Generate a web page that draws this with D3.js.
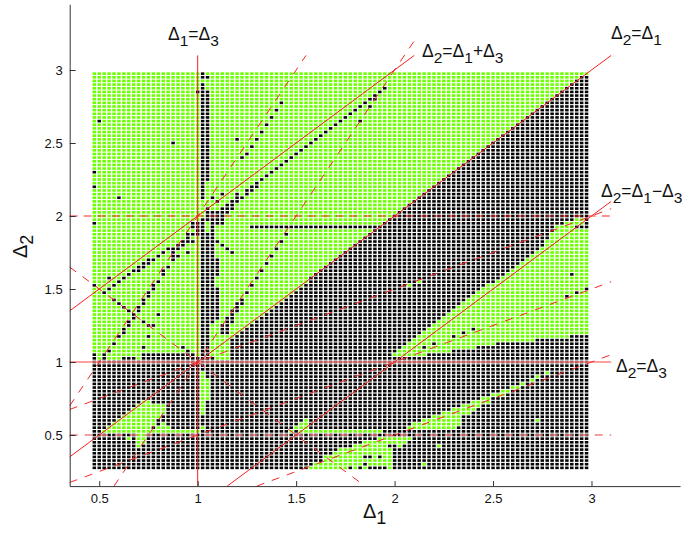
<!DOCTYPE html>
<html>
<head>
<meta charset="utf-8">
<script src="https://cdn.jsdelivr.net/npm/d3@7"></script>
<style>
  html, body { margin: 0; padding: 0; background: #fff; }
  svg { display: block; }
  text { font-family: "Liberation Sans", Arial, sans-serif; fill: #111; }
</style>
</head>
<body>
<svg id="chart"></svg>
<script>
const width = 692;
const height = 536;

// Axis ticks
const xTicks = [0.5, 1, 1.5, 2, 2.5, 3];
const yTicks = [0.5, 1, 1.5, 2, 2.5, 3];

// Scan grid: columns step Delta1, rows step Delta2
const delta1Start = 0.475, delta2Start = 0.275, gridStep = 0.025;
const columnCount = 101, rowCount = 109;

// Rows that are black right across (row numbers from the bottom)
const solidBlackRows = [0, 1, 2, 3, 4, 5, 6, 7, 8, 9, 10, 11, 12, 13, 14, 15, 16, 17, 18, 19, 20, 21, 22, 23, 24, 25, 26, 27, 28, 29];

// First black column of the right hand block, for rows 31, 32, 33 ...
const edgeFirstRow = 31;
const edgeColumn = [28, 28, 28, 28, 28, 29, 30, 31, 32, 33, 34, 35, 36, 37, 38, 39, 40, 41, 42, 43,
  44, 44, 45, 46, 47, 48, 49, 50, 51, 52, 53, 54, 55, 56, 57, 58, 59, 60, 61, 62, 63, 64, 65, 66, 67,
  68, 69, 70, 71, 72, 73, 74, 75, 76, 77, 78, 79, 80, 81, 82, 83, 84, 85, 86, 87, 88, 89, 90, 91, 92,
  93, 94, 95, 96, 97, 98, 99];

// Black horizontal runs: [row, from column, to column]
const blackRuns = [
  [30, 0, 0], [30, 2, 2], [30, 6, 8], [30, 10, 24], [30, 28, 100],
  [31, 0, 0], [31, 2, 2], [31, 10, 20], [66, 32, 58]
];

// Green runs over the black block: [row, from column, to column]
const greenRuns = [
  // wedge under Delta2 = Delta1 - Delta3
  [31, 61, 67], [32, 62, 72], [33, 63, 77], [34, 64, 81], [35, 65, 89], [36, 66, 96],
  [37, 67, 100], [38, 68, 100], [39, 69, 100], [40, 70, 100], [41, 71, 100], [42, 72, 100],
  [43, 73, 100], [44, 74, 100], [45, 75, 100], [46, 76, 100], [47, 77, 100], [48, 78, 100],
  [49, 79, 100], [50, 80, 100], [51, 82, 100], [52, 83, 100], [53, 84, 100], [54, 85, 100],
  [55, 86, 100], [56, 87, 100], [57, 88, 100], [58, 89, 100], [59, 90, 100], [60, 91, 100],
  [61, 92, 100], [62, 92, 100], [63, 93, 100], [64, 93, 100], [65, 94, 100], [66, 94, 97],
  [67, 96, 99], [68, 98, 99],
  // triangle near Delta1 = 0.7
  [18, 10, 11], [17, 9, 14], [16, 8, 14], [15, 7, 14], [14, 6, 13], [13, 5, 12], [12, 4, 12],
  [12, 14, 14], [11, 3, 11], [11, 13, 15], [10, 2, 11], [10, 12, 21], [9, 9, 10], [8, 7, 7],
  [8, 9, 10], [7, 9, 10], [6, 9, 9],
  // streak right of Delta1 = 1
  [26, 22, 22], [25, 22, 22], [24, 22, 23], [23, 22, 23], [22, 22, 23], [21, 22, 23], [20, 22, 23],
  [19, 22, 23], [18, 22, 22], [17, 22, 22], [16, 22, 22], [15, 22, 22], [11, 22, 22],
  // long band from Delta1 = 1.5 up to 2.8
  [13, 43, 43], [12, 42, 43], [11, 41, 43], [10, 40, 40], [10, 42, 58],
  [8, 58, 64], [7, 55, 63], [6, 53, 59], [6, 62, 62], [5, 50, 60], [4, 49, 60],
  [3, 47, 60], [2, 47, 60], [1, 45, 60], [0, 44, 60],
  [11, 64, 73], [12, 65, 74], [13, 67, 74], [14, 69, 74], [15, 71, 76], [16, 73, 77], [17, 75, 78],
  [18, 77, 80], [19, 79, 80], [20, 81, 83], [21, 83, 84], [22, 85, 86], [23, 87, 87],
  [24, 89, 89], [25, 90, 90], [26, 92, 92], [13, 90, 90], [1, 67, 67], [6, 70, 70],
  [50, 64, 64], [51, 66, 66]
];

// Black vertical runs on the green ground: [column, from row, to row]
const blackColumns = [
  [22, 31, 68], [22, 74, 105], [22, 107, 108],
  [23, 31, 64], [23, 68, 71], [23, 79, 102],
  [24, 40, 70], [25, 41, 49], [25, 53, 57], [25, 67, 70], [26, 67, 71], [26, 37, 39],
  [27, 70, 72], [28, 71, 73], [29, 73, 75], [27, 37, 41], [28, 40, 43], [29, 43, 45], [30, 45, 46],
  [16, 57, 60], [19, 62, 64], [21, 64, 67], [20, 66, 67], [18, 61, 62], [17, 60, 61]
];

// Isolated black cells: [column, row]
const blackDots = [
  [0, 67], [0, 77], [0, 81], [1, 95], [5, 74], [16, 89], [0, 50], [3, 52], [21, 103], [23, 103], [23, 107],
  [24, 74], [25, 73], [26, 75], [26, 71], [30, 74], [31, 75], [31, 76], [32, 76], [32, 77],
  [33, 77], [33, 78], [34, 79], [35, 80], [36, 81], [37, 82], [38, 83], [39, 84], [40, 85],
  [41, 86], [42, 87], [43, 88], [44, 89], [45, 90], [46, 91], [47, 92], [48, 93], [49, 94],
  [50, 95], [51, 96], [52, 97], [53, 98], [54, 99], [55, 100], [56, 101], [57, 102], [58, 103], [59, 104],
  [54, 95], [56, 99], [57, 101],
  [29, 90], [30, 85], [31, 86], [32, 88], [33, 90], [34, 92], [35, 94], [36, 96], [37, 98], [38, 100],
  [15, 60], [14, 59], [13, 58], [17, 58], [19, 59], [12, 57], [11, 57], [11, 56], [10, 56], [10, 55],
  [9, 55], [9, 54], [8, 54], [7, 53], [6, 52], [5, 51], [4, 50], [3, 49], [2, 48],
  [15, 55], [14, 54], [14, 53], [13, 51], [12, 50], [12, 49], [11, 48], [11, 47], [10, 46], [10, 45],
  [9, 44], [9, 43], [4, 46], [5, 45], [6, 44], [7, 43], [8, 42], [8, 41], [13, 42], [10, 40],
  [7, 40], [7, 39], [11, 39], [12, 39], [6, 38], [6, 37], [5, 36], [11, 36], [4, 34], [3, 32],
  [10, 33], [18, 33], [19, 32], [20, 64], [20, 62],
  [25, 62], [26, 61], [27, 60], [28, 59], [31, 48], [32, 50], [33, 52], [34, 54], [35, 56],
  [36, 58], [37, 60], [38, 62], [39, 64],
  [97, 53], [96, 47], [98, 48], [100, 49], [77, 38], [75, 37], [73, 36], [69, 34], [67, 33],
  [55, 3], [56, 3], [58, 3], [55, 1], [52, 0], [54, 0], [56, 0], [57, 0], [58, 0], [59, 0]
];

// Resonance lines: [Delta1 start, Delta2 start, Delta1 end, Delta2 end]
const solidLines = [
  [1, 0.15, 1, 3.1],
  [0.35, 0.35, 3.1, 3.1],
  [0.35, 1.35, 2.1, 3.1],
  [1.15, 0.15, 3.1, 2.1]
];
const dashedLines = [
  [0.35, 0.7, 1.55, 3.1],
  [0.575, 0.15, 2.1, 3.2],
  [0.35, 0.175, 3.1, 1.55],
  [0.35, 0.675, 3.1, 2.05],
  [1.3, 0.15, 3.1, 1.05],
  [0.35, 1.65, 1.85, 0.15]
];
const levelDashedLines = [[0.35, 2, 3.1, 2]];
const paleDashedLines = [[0.35, 0.5, 3.1, 0.5]];
const paleSolidLines = [[0.35, 1, 3.1, 1]];

const svg = d3.select("#chart").attr("width", width).attr("height", height);

const x = d3.scaleLinear().domain([0.35, 3.45]).range([69.7, 680.1]);
const y = d3.scaleLinear().domain([0.15, 3.45]).range([486.1, 4.3]);

// Paint the grid: green ground, then black block, green patches, black cells
const state = d3.range(rowCount).map(() => new Array(columnCount).fill(false));
const paint = (r, from, to, val) => { for (let c = from; c <= to; c++) state[r][c] = val; };

solidBlackRows.forEach(r => paint(r, 0, columnCount - 1, true));
edgeColumn.forEach((c, i) => paint(edgeFirstRow + i, c, columnCount - 1, true));
blackRuns.forEach(d => paint(d[0], d[1], d[2], true));
greenRuns.forEach(d => paint(d[0], d[1], d[2], false));
blackColumns.forEach(d => { for (let r = d[1]; r <= d[2]; r++) state[r][d[0]] = true; });
blackDots.forEach(d => { state[d[1]][d[0]] = true; });

const cells = [];
state.forEach((row, r) => row.forEach((black, c) => cells.push({
  d1: delta1Start + c * gridStep,
  d2: delta2Start + r * gridStep,
  black
})));

const cellW = 3.5, cellH = 2.6;
svg.append("g").selectAll("rect")
  .data(cells)
  .enter()
  .append("rect")
  .attr("x", d => x(d.d1) - cellW / 2)
  .attr("y", d => y(d.d2) - cellH / 2)
  .attr("width", cellW)
  .attr("height", cellH)
  .attr("fill", d => d.black ? "#050505" : "#6cff00");

// Lines
function drawLines(data, stroke, sw, dash) {
  svg.append("g").selectAll("line")
    .data(data)
    .enter()
    .append("line")
    .attr("x1", d => x(d[0]))
    .attr("y1", d => y(d[1]))
    .attr("x2", d => x(d[2]))
    .attr("y2", d => y(d[3]))
    .attr("stroke", stroke)
    .attr("stroke-width", sw)
    .attr("stroke-dasharray", dash);
}
drawLines(paleSolidLines, "#ff8080", 1.6, null);
drawLines(paleDashedLines, "#f08080", 1.5, "8 7");
drawLines(levelDashedLines, "#f52828", 1.1, "8 6");
drawLines(dashedLines, "#f52828", 1, "8 8");
drawLines(solidLines, "#f52020", 1, null);

// Axes
const xAxis = d3.axisBottom(x).tickValues(xTicks).tickFormat(d => d)
  .tickSizeInner(-5).tickSizeOuter(0).tickPadding(8);
const yAxis = d3.axisLeft(y).tickValues(yTicks).tickFormat(d => d)
  .tickSizeInner(-6).tickSizeOuter(0).tickPadding(7);

const gx = svg.append("g").attr("transform", `translate(0,${y(0.15)})`).call(xAxis);
const gy = svg.append("g").attr("transform", `translate(${x(0.35)},0)`).call(yAxis);
[gx, gy].forEach(g => {
  g.selectAll("path, line").attr("stroke", "#333");
  g.selectAll("text").style("font-size", "13px").attr("fill", "#111");
});

// Mathematical labels: each one a list of [text, is subscript]
function label(px, py, parts, size, rotate) {
  const t = svg.append("text")
    .attr("transform", `translate(${px},${py})${rotate ? " rotate(-90)" : ""}`)
    .style("font-size", size + "px");
  let shifted = false;
  parts.forEach(p => {
    const s = t.append("tspan").text(p[0]);
    if (p[1]) s.style("font-size", (size - 2) + "px");
    if (p[1] && !shifted) { s.attr("dy", 6); shifted = true; }
    else if (!p[1] && shifted) { s.attr("dy", -6); shifted = false; }
  });
}

label(168, 40, [["Δ"], ["1", 1], ["=Δ"], ["3", 1]], 17.5);
label(422, 57, [["Δ"], ["2", 1], ["=Δ"], ["1", 1], ["+Δ"], ["3", 1]], 17.5);
label(611, 39, [["Δ"], ["2", 1], ["=Δ"], ["1", 1]], 17.5);
label(601, 197, [["Δ"], ["2", 1], ["=Δ"], ["1", 1], ["−Δ"], ["3", 1]], 17.5);
label(616, 372, [["Δ"], ["2", 1], ["=Δ"], ["3", 1]], 17.5);
label(363, 518, [["Δ"], ["1", 1]], 20);
label(27, 258, [["Δ"], ["2", 1]], 20, true);
</script>
</body>
</html>
